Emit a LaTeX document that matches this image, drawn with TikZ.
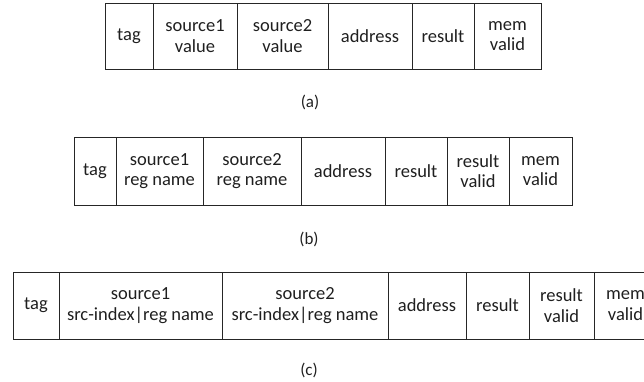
\documentclass[tikz,border=0pt]{standalone}
\usepackage{fontspec}
\setmainfont{Carlito}
\begin{document}
\begin{tikzpicture}[x=1pt,y=-1pt,
  cell/.style={draw=black!85, line width=0.9pt, inner sep=0pt, outer sep=0pt,
    anchor=north west, align=center,
    font=\fontsize{18.5}{20.5}\selectfont, text=black!88},
  capt/.style={font=\fontsize{17}{20}\selectfont, text=black!88}]
\useasboundingbox (0,0) rectangle (644,382);
\clip (0,0) rectangle (644,382);

% (a) entry with operand values
\begin{scope}[every node/.append style={minimum height=66pt}]
\node[cell, minimum width=48pt] (a1) at (105,3) {tag};
\node[cell, minimum width=84pt] (a2) at (a1.north east) {source1\\value};
\node[cell, minimum width=91pt] (a3) at (a2.north east) {source2\\value};
\node[cell, minimum width=84pt] (a4) at (a3.north east) {address};
\node[cell, minimum width=62pt] (a5) at (a4.north east) {result};
\node[cell, minimum width=67pt] (a6) at (a5.north east) {mem\\valid};
\end{scope}
\node[capt] (capa) at (310,102) {(a)};

% (b) entry with register names
\begin{scope}[every node/.append style={minimum height=68pt}]
\node[cell, minimum width=42pt] (b1) at (74,137) {tag};
\node[cell, minimum width=87pt] (b2) at (b1.north east) {source1\\reg name};
\node[cell, minimum width=98pt] (b3) at (b2.north east) {source2\\reg name};
\node[cell, minimum width=84pt] (b4) at (b3.north east) {address};
\node[cell, minimum width=62pt] (b5) at (b4.north east) {result};
\node[cell, minimum width=62pt] (b6) at (b5.north east) {result\\valid};
\node[cell, minimum width=63pt] (b7) at (b6.north east) {mem\\valid};
\end{scope}
\node[capt] (capb) at (309,239) {(b)};

% (c) entry with source index and register name
\begin{scope}[every node/.append style={minimum height=67pt}]
\node[cell, minimum width=46pt] (c1) at (13,272) {tag};
\node[cell, minimum width=163pt] (c2) at (c1.north east) {source1\\src-index|reg name};
\node[cell, minimum width=166pt] (c3) at (c2.north east) {source2\\src-index|reg name};
\node[cell, minimum width=78pt] (c4) at (c3.north east) {address};
\node[cell, minimum width=63pt] (c5) at (c4.north east) {result};
\node[cell, minimum width=65pt] (c6) at (c5.north east) {result\\valid};
\node[cell, minimum width=63pt] (c7) at (c6.north east) {mem\\valid};
\end{scope}
\node[capt] (capc) at (309,370) {(c)};
\end{tikzpicture}
\end{document}
